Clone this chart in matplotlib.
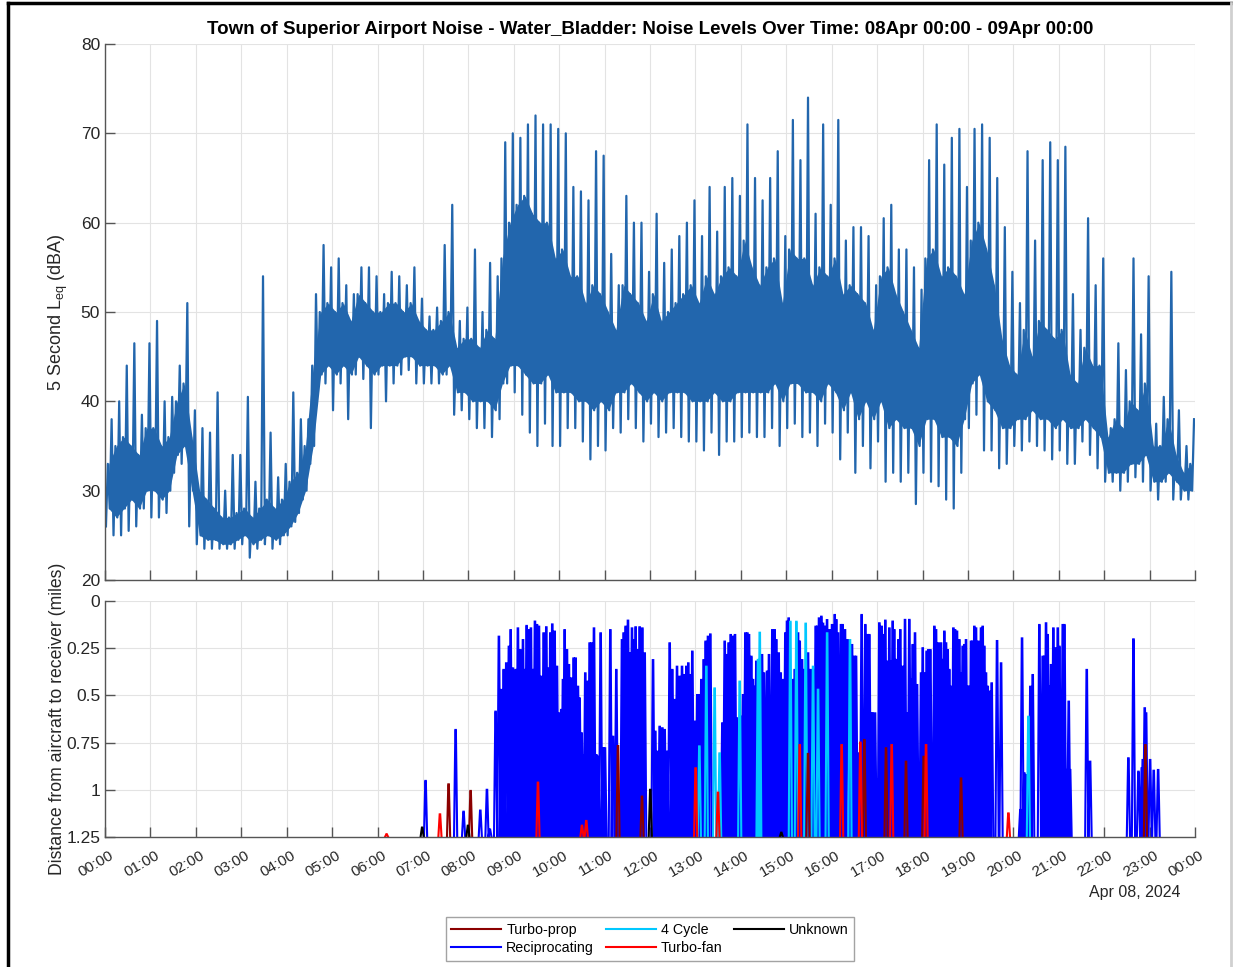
"""Airport noise day plot: 5 s Leq trace on top, aircraft distance by type below."""

import numpy as np
import matplotlib
matplotlib.use("Agg")
import matplotlib.pyplot as plt
from matplotlib.lines import Line2D
from matplotlib.transforms import ScaledTranslation

plt.rcParams['font.family'] = ['Liberation Sans', 'DejaVu Sans']

TITLE = ("Town of Superior Airport Noise - Water_Bladder: Noise Levels Over Time: "
         "08Apr 00:00 - 09Apr 00:00")
DATE_LABEL = "Apr 08, 2024"

# --- 5 second Leq read per 10 minute bin (dBA): lowest dip, dense band, highest spike
noise_lo = [26, 25, 25, 25.5, 26, 28, 27, 27, 27.5, 32, 33, 26,
            24, 23.5, 23.5, 23.5, 23.5, 23.5, 24, 22.5, 23.5, 24, 23.5, 24,
            25, 26.5, 29, 33, 41, 42, 39, 42, 38, 43, 42.5, 37,
            43, 40, 42, 43, 43.5, 42, 42, 42, 42, 43, 38.5, 39,
            38, 37, 37, 36, 38, 42, 41, 38.5, 36.5, 35, 37.5, 35,
            35, 37, 37, 35.5, 33.5, 35, 34.5, 37, 36.5, 38, 37, 35.5,
            37.5, 36, 36.5, 37, 36, 35.5, 35.5, 34.5, 36.5, 34, 35.5, 35.5,
            36, 36.5, 36, 36, 37, 35, 37, 37.5, 36, 36.5, 35, 37.5,
            36.5, 33.5, 36.5, 32, 35, 32.5, 35.5, 31, 32, 31, 32, 28.5,
            32, 31, 30.5, 29, 28, 32, 37, 38.5, 34.5, 34.5, 32.5, 33,
            35, 34.5, 35.5, 35, 34.5, 33.5, 34.5, 33, 33, 35.5, 34, 32.5,
            31, 31, 30, 31, 31.5, 31, 30, 29, 31, 29, 29, 29]
band_lo = [28, 27, 28, 29, 28, 30, 30, 29, 30, 34, 35, 30,
           25, 24.5, 24.5, 24, 24, 24.5, 25, 24, 24.5, 25, 24.5, 25,
           26, 27.5, 30, 35, 43, 44, 43, 44, 43, 45, 44, 43,
           44, 44, 44, 45, 45, 44, 44, 44, 43, 44, 41, 41,
           40, 40, 40, 39, 42, 44, 44, 43, 42, 42, 43, 41,
           41, 41, 40, 40, 39, 40, 39, 41, 41, 42, 41, 40,
           41, 40, 41, 41, 41, 40, 40, 40, 41, 40, 40, 41,
           41, 41, 41, 41, 42, 40, 42, 42, 41, 41, 40, 42,
           41, 39, 41, 38, 40, 38, 40, 37, 38, 37, 37, 35,
           38, 38, 36, 36, 35, 38, 42, 43, 40, 39, 37, 37,
           38, 38, 39, 38, 38, 37, 38, 37, 37, 38, 37, 36,
           32, 32, 32, 33, 33, 34, 31, 31, 32, 31, 30, 30]
band_hi = [33, 35, 36, 35, 34, 37, 37, 35, 36, 40, 42, 36,
           30, 29, 28, 27, 27, 27.5, 28, 27, 28, 29, 28, 29,
           31, 32, 35, 44, 50, 51, 50, 51, 49, 52, 51, 50,
           50, 51, 51, 50, 51, 49, 48, 48, 49, 50, 46, 47,
           47, 46, 48, 47, 56, 60, 62, 63, 61, 60, 60, 56,
           57, 54, 54, 51, 53, 52, 50, 48, 53, 52, 51, 49,
           52, 49, 50, 51, 52, 53, 51, 54, 52, 54, 55, 54,
           58, 55, 53, 55, 56, 51, 57, 56, 56, 53, 55, 54,
           56, 52, 53, 52, 51, 48, 54, 55, 52, 50, 48, 46,
           56, 57, 54, 55, 54, 52, 58, 60, 57, 53, 47, 44,
           43, 48, 45, 49, 48, 47, 48, 43, 42, 46, 44, 44,
           36, 38, 37, 40, 39, 42, 35, 35, 38, 34, 32, 33]
noise_peak = [38, 40, 44, 46.5, 38.5, 46.5, 49, 40, 40.5, 44, 51, 39,
              37, 36.5, 41, 30, 34, 34, 40.5, 31, 54, 36.5, 31.5, 33,
              41, 38, 38, 52, 57.5, 55, 56, 53, 52, 55, 55, 54,
              52, 54.5, 54, 53, 55, 51.5, 49.5, 50.5, 57.5, 62, 49, 50.5,
              57, 50, 55.5, 54, 69, 70, 69.5, 71, 72, 71, 71, 70.5,
              70, 64, 63.5, 62.5, 68, 67.5, 56.5, 53, 63, 60, 60, 54.5,
              61, 55.5, 57, 58.5, 60, 62.5, 58.5, 64, 59, 64, 65, 63,
              71, 65, 62.5, 65, 68, 58.5, 71.5, 67, 74, 61, 71, 62,
              71.5, 58, 59.5, 59.5, 58.5, 53, 60.5, 62, 57, 57, 55, 52.5,
              67, 71, 66.5, 69.5, 70.5, 64, 70.5, 71, 69.5, 65, 59.5, 54.5,
              51, 68, 58, 67, 69, 67, 68.5, 52, 48, 60.5, 53, 56,
              37, 46.5, 43.5, 56, 47.5, 54, 37.5, 40.5, 54.5, 39, 35, 38]

# --- closest approach per flight: minutes after midnight, miles
recip_min = [423.5, 463.2, 473.7, 495.8, 504.6, 508.5,
             516, 520.4, 523.5, 526.6, 530.1, 533.6, 535.9, 538.9, 542.5, 545.5,
             548.6, 552.2, 554.4, 557, 560.1, 562.7, 565.4, 568, 570.7, 573.3,
             576.4, 579.5, 583, 586.1, 588.3, 590.9, 594, 597.1, 599.7, 602.8,
             605, 607.2, 610.3, 612.9, 616, 619.1, 621.7, 624.8, 627, 629.7,
             631.9, 634.5, 638, 640.3, 642.9, 646, 649.1, 651.7, 654.8, 657.9,
             660.5, 667.6, 671.1, 675.5, 683, 685.2, 687.8, 690.9, 693.1, 696.2,
             698.4, 701, 703.7, 706.3, 709.9, 713, 724, 727, 729.7, 732.8,
             736.3, 739.4, 742.9, 746, 749.5, 752.6, 755.7, 759.2, 762.3, 764.9,
             768, 770.6, 773.3, 775.9, 779, 782.5, 785.2, 787.8, 790.9, 793.5,
             796.6, 799.7, 815.6, 818.7, 821.3, 823.9, 826.6, 829.7, 832.3, 835,
             840.7, 842.9, 846, 848.6, 850.8, 853.9, 856.1, 858.3, 860.5, 868,
             870.6, 872.4, 874.6, 877.2, 879.4, 881.6, 884.7, 886.9, 890, 892.7,
             895.7, 898.8, 901, 903.2, 908.1, 911.2, 915.6, 917.8, 920.9, 923.1,
             928.8, 931.9, 935.4, 938.9, 941.1, 943.3, 946.4, 948.6, 951.7, 953.9,
             957.4, 960.5, 964, 966.2, 968.4, 972.3, 974.5, 977.6, 981.1, 986.9,
             990, 992.2, 994.4, 996.6, 999.6, 1002.3, 1004.5, 1007.6, 1009.8, 1012,
             1014.2, 1017.3, 1019.9, 1023, 1026.1, 1028.7, 1030.9, 1034, 1036.2,
             1038.4, 1040.6, 1042.8, 1045, 1048.1, 1050.7, 1053.8, 1056.9, 1059.6,
             1062.6, 1064.8, 1067, 1070.1, 1072.8, 1078.1, 1080.3, 1082.5, 1085.5,
             1087.7, 1090.4, 1093.5, 1095.7, 1097.9, 1101, 1104.5, 1106.7, 1108.9,
             1111.1, 1113.3, 1115.5, 1117.7, 1120.8, 1123, 1125.6, 1128.7, 1130.9,
             1133.1, 1135.3, 1137.5, 1139.7, 1141.9, 1144.1, 1146.3, 1148.5,
             1150.7, 1153.8, 1157.3, 1159.5, 1161.7, 1163.9, 1166.2, 1168.4,
             1171.4, 1178.5, 1183.8, 1209.3, 1211.5, 1214.6, 1216.8, 1222.5,
             1225.6, 1234.4, 1238.8, 1241, 1243.2, 1245.4, 1247.6, 1249.8, 1252.9,
             1255.6, 1258.7, 1260.9, 1264, 1265.3, 1267.5, 1269.7, 1273.2, 1275,
             1297, 1301.4, 1352, 1358.7, 1365.3, 1369.7, 1371, 1373.6, 1375.4,
             1380.7, 1385.5, 1391.3]
recip_dist = [0.953, 0.683, 1.116, 1.11, 1.0, 1.21,
              0.586, 0.189, 0.471, 0.365, 0.33, 0.242, 0.154, 0.357, 0.365, 0.145,
              0.26, 0.207, 0.365, 0.132, 0.154, 0.145, 0.365, 0.109, 0.127, 0.136,
              0.401, 0.171, 0.139, 0.357, 0.171, 0.124, 0.162, 0.348, 0.595, 0.577,
              0.418, 0.154, 0.26, 0.339, 0.41, 0.304, 0.304, 0.454, 0.516, 0.701,
              0.816, 0.383, 0.427, 0.224, 0.224, 0.145, 0.816, 0.825, 0.171, 0.78,
              0.78, 0.154, 0.719, 0.365, 0.207, 0.171, 0.136, 0.104, 0.277, 0.145,
              0.207, 0.139, 0.26, 0.139, 0.145, 0.277, 0.313, 0.692, 0.798, 0.666,
              0.674, 0.683, 0.798, 0.224, 0.365, 0.524, 0.348, 0.401, 0.348, 0.392,
              0.348, 0.33, 0.392, 0.268, 0.639, 0.498, 0.498, 0.418, 0.313, 0.215,
              0.189, 0.177, 0.648, 0.215, 0.286, 0.224, 0.18, 0.189, 0.18, 0.621,
              0.613, 0.498, 0.171, 0.171, 0.18, 0.295, 0.418, 0.454, 0.321, 0.286,
              0.383, 0.877, 0.374, 0.286, 0.807, 0.154, 0.154, 0.207, 0.277, 0.383,
              0.418, 0.171, 0.109, 0.092, 0.418, 0.365, 0.171, 0.215, 0.313, 0.365,
              0.277, 0.365, 0.365, 0.136, 0.136, 0.092, 0.083, 0.12, 0.136, 0.101,
              0.154, 0.127, 0.074, 0.101, 0.171, 0.127, 0.127, 0.154, 0.207, 0.233,
              0.295, 0.295, 0.807, 0.842, 0.074, 0.595, 0.127, 0.18, 0.18, 0.595,
              0.595, 0.595, 0.948, 0.118, 0.136, 0.18, 0.104, 0.321, 0.145,
              0.321, 0.109, 0.154, 0.312, 0.207, 0.154, 0.348, 0.1, 0.595,
              0.1, 0.418, 0.233, 0.171, 0.445, 0.383, 0.25, 0.383, 0.268,
              0.26, 0.26, 0.842, 0.136, 0.154, 0.224, 0.224, 0.312, 0.162,
              0.224, 0.26, 0.365, 0.454, 0.145, 0.154, 0.162, 0.207, 0.383,
              0.242, 0.233, 0.207, 0.454, 0.454, 0.215, 0.215, 0.136,
              0.145, 0.215, 0.145, 0.136, 0.242, 0.383, 0.454, 0.48,
              0.436, 0.212, 0.33, 1.107, 0.198, 0.913, 0.922, 0.454,
              0.392, 0.127, 0.295, 0.295, 0.118, 0.18, 0.454, 0.339, 0.145,
              0.25, 0.145, 0.242, 0.719, 0.127, 0.127, 0.895, 0.533, 0.895,
              0.365, 0.851, 0.833, 0.203, 0.904, 0.886, 0.842, 0.568, 0.595,
              0.842, 0.899, 0.895]

cycle4_min = [785.2, 794.4, 805.4, 812, 838.5, 862.7, 865, 905.4, 913.4, 925.7,
              935.4, 942, 954, 984.2, 1219.9]
cycle4_dist = [0.77, 0.348, 0.463, 0.807, 0.427, 0.312, 0.168, 0.11, 0.11, 0.12,
               0.348, 0.47, 0.171, 0.207, 0.613]

turbofan_min = [372, 442.5, 572, 630.1, 635.8, 780.3, 809.8, 917.8, 973.2, 997.9,
                1039.3, 1084.7, 1193.5]
turbofan_dist = [1.235, 1.13, 0.962, 1.19, 1.165, 0.886, 1.015, 0.763, 0.763, 0.75,
                 0.763, 0.763, 1.125]

turboprop_min = [453.9, 483, 677.7, 709.4, 928.8, 1003.2, 1031.8, 1058.2, 1081.6,
                 1130.9, 1374.5]
turboprop_dist = [0.971, 1.006, 0.768, 1.036, 0.81, 0.736, 0.78, 0.851, 0.825,
                  0.94, 0.763]

unknown_min = [419, 479.5, 720.4, 893.5]
unknown_dist = [1.2, 1.19, 1.0, 1.227]

hour_labels = [f"{h % 24:02d}:00" for h in range(25)]
dist_ticks = [0, 0.25, 0.5, 0.75, 1, 1.25]
dist_tick_labels = ['0', '0.25', '0.5', '0.75', '1', '1.25']

NOISE_BLUE = '#2266ad'
AX_GRAY = '#555555'
TXT = '#262626'
MAX_DIST = 1.25


def flight_path(minutes, dists, half=2.1, flat=0.35):
    """Each flight as a narrow dip from the 1.25 mile floor to its closest point."""
    xs, ys = [], []
    for m, d in zip(minutes, dists):
        xs += [(m - half) / 60, (m - flat) / 60, (m + flat) / 60, (m + half) / 60, np.nan]
        ys += [MAX_DIST, d, d, MAX_DIST, np.nan]
    return xs, ys


def style_axis(ax):
    for side in ['top', 'right']:
        ax.spines[side].set_visible(False)
    for side in ['left', 'bottom']:
        ax.spines[side].set_color(AX_GRAY)
        ax.spines[side].set_linewidth(1.0)
    ax.tick_params(direction='in', length=7, width=1.0, color=AX_GRAY,
                   labelcolor=TXT, labelsize=12.5)
    ax.grid(True, color='#e3e3e3', linewidth=0.8)
    ax.set_axisbelow(True)
    ax.set_xlim(0, 24)
    ax.set_xticks(range(25))


def main():
    fig = plt.figure(figsize=(12.33, 9.67), dpi=100)
    W, H = 1233, 967

    ax1 = fig.add_axes([105 / W, 1 - 580 / H, 1090 / W, 536 / H])
    ax2 = fig.add_axes([105 / W, 1 - 837 / H, 1090 / W, 236 / H])

    # noise trace: dense band as a filled area, then dip -> band -> spike per 10 min bin
    bins = np.arange(len(noise_lo)) * 10.0
    n = len(bins)
    ax1.fill_between((bins + 5) / 60, band_lo, band_hi, color=NOISE_BLUE, linewidth=0)
    t = np.empty(4 * n)
    v = np.empty(4 * n)
    for k, (off, vals) in enumerate([(1.25, noise_lo), (3.75, band_hi),
                                     (6.25, band_lo), (8.75, noise_peak)]):
        t[k::4] = (bins + off) / 60
        v[k::4] = vals
    ax1.plot(t, v, color=NOISE_BLUE, linewidth=1.6)

    style_axis(ax1)
    ax1.set_ylim(20, 80)
    ax1.set_yticks(range(20, 81, 10))
    ax1.set_xticklabels([])
    ax1.set_ylabel('5 Second L$_{\\mathregular{eq}}$ (dBA)', fontsize=13, color=TXT)
    ax1.yaxis.set_label_coords(-0.032, 0.5)
    ax1.set_title(TITLE, fontsize=13.5, fontweight='bold', pad=7)

    # distance panel
    series = [
        ('Reciprocating', recip_min, recip_dist, '#0000ff'),
        ('4 Cycle', cycle4_min, cycle4_dist, '#00c8ff'),
        ('Turbo-prop', turboprop_min, turboprop_dist, '#8b0000'),
        ('Turbo-fan', turbofan_min, turbofan_dist, '#ff0000'),
        ('Unknown', unknown_min, unknown_dist, '#000000'),
    ]
    handles = {}
    for name, mins, dists, col in series:
        xs, ys = flight_path(mins, dists)
        ax2.plot(xs, ys, color=col, linewidth=1.5, solid_joinstyle='miter')
        handles[name] = Line2D([], [], color=col, linewidth=1.5)

    style_axis(ax2)
    ax2.set_ylim(MAX_DIST, 0)
    ax2.set_yticks(dist_ticks)
    ax2.set_yticklabels(dist_tick_labels)
    ax2.set_xticklabels(hour_labels, rotation=30, ha='right', va='top',
                        rotation_mode='anchor', fontsize=11)
    ax2.tick_params(axis='x', pad=8)
    shift = ScaledTranslation(0.04, 0, fig.dpi_scale_trans)
    for lbl in ax2.get_xticklabels():
        lbl.set_transform(lbl.get_transform() + shift)
    ax2.set_ylabel('Distance from aircraft to receiver (miles)', fontsize=12.7, color=TXT)
    ax2.yaxis.set_label_coords(-0.036, 0.5)

    fig.text(1135 / W, 1 - 893 / H, DATE_LABEL, ha='center', va='center',
             fontsize=11.5, color=TXT)

    order = ['Turbo-prop', 'Reciprocating', '4 Cycle', 'Turbo-fan', 'Unknown']
    leg = fig.legend([handles[k] for k in order], order, ncol=3, loc='center',
                     bbox_to_anchor=(650 / W, 1 - 939 / H), fontsize=10.3,
                     frameon=True, fancybox=False, edgecolor='#8c8c8c',
                     handlelength=3.5, handletextpad=0.35, columnspacing=0.8,
                     borderpad=0.4, labelspacing=0.25, borderaxespad=0)
    leg.get_frame().set_linewidth(1.0)

    # figure frame
    fig.add_artist(Line2D([8 / W, 8 / W], [0, 1 - 3 / H], color='black', linewidth=2.5))
    fig.add_artist(Line2D([8 / W, 1], [1 - 3 / H, 1 - 3 / H], color='black', linewidth=2.5))
    fig.add_artist(Line2D([1231 / W, 1231 / W], [0, 1 - 3 / H], color='#d0d0d0', linewidth=2))

    fig.savefig('out.png', dpi=100)


if __name__ == '__main__':
    main()
